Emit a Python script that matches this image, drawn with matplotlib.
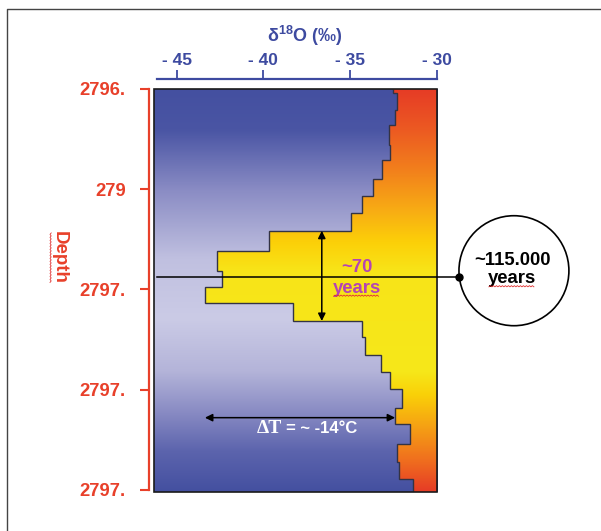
import numpy as np
import matplotlib
matplotlib.use('Agg')
import matplotlib.pyplot as plt
from matplotlib.colors import LinearSegmentedColormap
from matplotlib.patches import Ellipse, Rectangle
from matplotlib.lines import Line2D
from matplotlib.transforms import IdentityTransform

plt.rcParams['font.family'] = ['Liberation Sans', 'DejaVu Sans']
plt.rcParams['font.weight'] = 'bold'

# depth axis runs 0..4 (five labelled ticks), step edges of the isotope profile
depth_edges = [0.0, 0.043, 0.210, 0.359, 0.559, 0.709, 0.898, 1.068, 1.241,
               1.415, 1.614, 1.814, 1.974, 2.139, 2.316, 2.479, 2.656, 2.828,
               2.995, 3.188, 3.347, 3.544, 3.721, 3.893, 4.020]
d18o = [-32.54, -32.31, -32.42, -32.77, -32.69, -33.14, -33.66, -34.31,
        -34.93, -39.66, -42.69, -42.40, -43.37, -38.31, -34.29, -34.13,
        -33.21, -32.69, -31.98, -32.40, -31.54, -32.31, -32.16, -31.35]

depth_ticks = [0, 1, 2, 3, 4]
depth_labels = ['2796.', '279', '2797.', '2797.', '2797.']
d18o_ticks = [-45, -40, -35, -30]
d18o_labels = ['- 45', '- 40', '- 35', '- 30']

event_depth = 1.874          # horizontal marker line
event_x = -36.63             # x of the duration arrow
event_top, event_bottom = depth_edges[9], depth_edges[14]
dt_depth = 3.281             # delta-T arrow
dt_right = d18o[19]
dt_left = min(d18o)

RED = '#e8402a'
BLUE = '#3d4aa0'
PURPLE = '#b444b4'

xlim = (-46.29, -29.97)
ylim = (4.02, 0.0)

fig = plt.figure(figsize=(6.01, 5.31), dpi=100)
ax = fig.add_axes([0.2567, 0.0740, 0.4709, 0.7584])

# background gradient
bg_cmap = LinearSegmentedColormap.from_list('bg', [
    (0.0, '#4450a0'), (0.10, '#4a55a4'), (0.25, '#8a8cc4'), (0.42, '#c0c0e0'),
    (0.57, '#cbcbe6'), (0.70, '#b4b4d9'), (0.80, '#8a8cc4'), (0.90, '#5c64ad'),
    (1.0, '#4450a0')])
fill_cmap = LinearSegmentedColormap.from_list('fill', [
    (0.0, '#e63c26'), (0.10, '#ec5a22'), (0.20, '#f2801c'), (0.30, '#f8ac14'),
    (0.38, '#fcd008'), (0.45, '#f8e418'), (0.70, '#f6e81a'), (0.76, '#fad008'),
    (0.84, '#f5a014'), (0.92, '#f0701e'), (1.0, '#e63c26')])
grad = np.linspace(0, 1, 256).reshape(-1, 1)
extent = [xlim[0], xlim[1], ylim[0], ylim[1]]
ax.imshow(grad, cmap=bg_cmap, extent=extent, aspect='auto', origin='upper', zorder=0)
fill_img = ax.imshow(grad, cmap=fill_cmap, extent=extent, aspect='auto',
                     origin='upper', zorder=1)

step = ax.stairs(d18o, depth_edges, orientation='horizontal', baseline=xlim[1],
                 fill=True, facecolor='none', edgecolor='none')
fill_img.set_clip_path(step)
ax.stairs(d18o, depth_edges, orientation='horizontal', baseline=None,
          color='#333344', lw=1.0, zorder=3)

ax.add_patch(Rectangle((0, 0), 1, 1, transform=ax.transAxes, fill=False,
                       ec='#1a1a1a', lw=1.2, zorder=5, clip_on=False))

ax.set_xlim(*xlim)
ax.set_ylim(*ylim)

# axes styling
for s in ['right', 'bottom']:
    ax.spines[s].set_visible(False)
ax.spines['left'].set_position(('outward', 3.6))
ax.spines['left'].set_bounds(0, 4)
ax.spines['left'].set_color(RED)
ax.spines['left'].set_linewidth(1.6)
ax.spines['top'].set_position(('outward', 7.2))
ax.spines['top'].set_bounds(-46.12, -30)
ax.spines['top'].set_color(BLUE)
ax.spines['top'].set_linewidth(1.6)

ax.xaxis.tick_top()
ax.set_xticks(d18o_ticks)
ax.set_xticklabels(d18o_labels)
ax.set_yticks(depth_ticks)
ax.set_yticklabels(depth_labels)
ax.tick_params(axis='x', top=True, bottom=False, direction='out', length=6.5,
               width=1.3, color=BLUE, labelcolor=BLUE, labelsize=12.5, pad=1.5)
ax.tick_params(axis='y', left=True, direction='out', length=6.5, width=1.5,
               colors=RED, labelsize=13.3, pad=10.5)
for lab in ax.get_xticklabels():
    lab.set_x(lab.get_position()[0])
    lab.set_horizontalalignment('center')

fig.text(0.5075, 1 - 42.3 / 531, r'δ$^{\mathregular{18}}$O (‰)', ha='center',
         va='baseline', color=BLUE, fontsize=13, weight='bold')
depth_txt = fig.text(59 / 601, 1 - 257 / 531, 'Depth', rotation=-90, ha='center',
                     va='center', color=RED, fontsize=13.5, weight='bold')

# event line and circle
ax.plot([-46.13, -28.70], [event_depth, event_depth], color='black', lw=1.1,
        clip_on=False, zorder=6)
ax.plot([-28.70], [event_depth], 'o', color='black', ms=5, clip_on=False, zorder=7)
ax.add_patch(Ellipse((-25.55, 1.814), 6.34, 1.098, fill=False, ec='black',
                     lw=1.2, clip_on=False, zorder=6))
ax.text(-25.66, 1.757, '~115.000', ha='center', va='baseline', fontsize=13.3,
        color='black', clip_on=False)
yrs1 = ax.text(-25.66, 1.940, 'years', ha='center', va='baseline', fontsize=13.3,
               color='black', clip_on=False)

# duration arrow
ax.annotate('', xy=(event_x, event_top), xytext=(event_x, event_bottom),
            arrowprops=dict(arrowstyle='<|-|>', color='black', lw=1.1,
                            mutation_scale=11, shrinkA=0, shrinkB=0), zorder=6)
ax.text(-34.62, 1.824, '~70', ha='center', va='baseline', fontsize=13.3, color=PURPLE)
yrs2 = ax.text(-34.62, 2.034, 'years', ha='center', va='baseline', fontsize=13.3,
               color=PURPLE)

# delta T arrow
ax.annotate('', xy=(dt_left, dt_depth), xytext=(dt_right, dt_depth),
            arrowprops=dict(arrowstyle='<|-|>', color='black', lw=1.1,
                            mutation_scale=11, shrinkA=0, shrinkB=0), zorder=6)
ax.text(-38.95, 3.437, 'ΔT', ha='right', va='baseline', fontsize=14,
        family=['Liberation Serif', 'DejaVu Serif'], weight='bold', color='white')
ax.text(-38.70, 3.437, '= ~ -14°C', ha='left', va='baseline', fontsize=12,
        color='white')

# outer frame
fig.add_artist(Line2D([7 / 601, 7 / 601, 1.0], [0.0, 1 - 8.5 / 531, 1 - 8.5 / 531],
                      color='#444444', lw=1.0))

# spell-check squiggles
fig.canvas.draw()


def squiggle(txt, vertical=False):
    bb = txt.get_window_extent()
    if vertical:
        ys = np.arange(bb.y0 + 1, bb.y1 - 1, 1.5)
        xs = bb.x0 - 0.5 + 1.2 * (np.arange(len(ys)) % 2)
    else:
        xs = np.arange(bb.x0 + 1, bb.x1 - 1, 1.5)
        ys = bb.y0 + 0.5 + 1.2 * (np.arange(len(xs)) % 2)
    fig.add_artist(Line2D(xs, ys, transform=IdentityTransform(), color='#e03030',
                          lw=0.6))


squiggle(yrs1)
squiggle(yrs2)
squiggle(depth_txt, vertical=True)

fig.savefig('out.png', dpi=100)
